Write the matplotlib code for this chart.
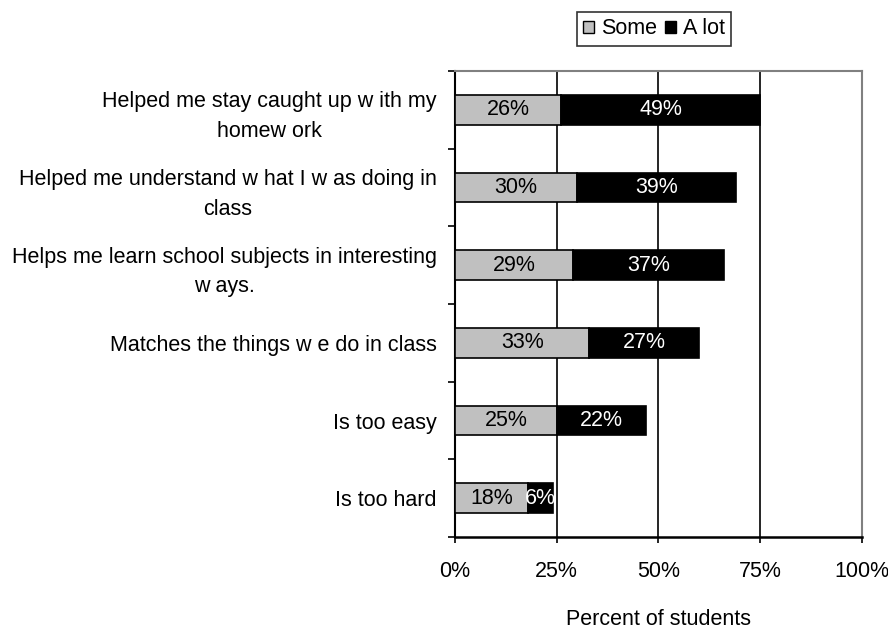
import numpy as np
import matplotlib
matplotlib.use("Agg")
import matplotlib.pyplot as plt
from matplotlib.patches import Patch

plt.rcParams['font.family'] = ['Liberation Sans', 'DejaVu Sans']

# data (top to bottom)
categories = ["Helped me stay caught up w ith my\nhomew ork",
              "Helped me understand w hat I w as doing in\nclass",
              "Helps me learn school subjects in interesting\nw ays.",
              "Matches the things w e do in class",
              "Is too easy",
              "Is too hard"]
some = [26, 30, 29, 33, 25, 18]
a_lot = [49, 39, 37, 27, 22, 6]
xticks = [0, 25, 50, 75, 100]

fs = 15.5

fig = plt.figure(figsize=(8.88, 6.3), dpi=100)
ax = fig.add_axes([0.5124, 0.1476, 0.4583, 0.7397])

n = len(categories)
y = np.arange(n)[::-1] + 0.5
h = 0.38

ax.barh(y, some, height=h, color='#c0c0c0', edgecolor='black', linewidth=1.2, zorder=3)
ax.barh(y, a_lot, left=some, height=h, color='black', edgecolor='black', linewidth=1.2, zorder=3)

for i in range(n):
    ax.text(some[i] / 2, y[i], "%d%%" % some[i], ha='center', va='center',
            fontsize=fs, color='black', zorder=4)
    ax.text(some[i] + a_lot[i] / 2, y[i], "%d%%" % a_lot[i], ha='center', va='center',
            fontsize=fs, color='white', zorder=4)

ax.set_xlim(0, 100)
ax.set_ylim(0, n)
ax.set_xticks(xticks)
ax.set_xticklabels(["%d%%" % t for t in xticks], fontsize=fs)
ax.tick_params(axis='x', direction='out', length=4, width=1.2, pad=13)

ax.set_yticks(np.arange(n + 1))
ax.set_yticklabels([])
ax.tick_params(axis='y', which='major', direction='out', length=5, width=1.2)
ax.set_yticks(y, minor=True)
ax.set_yticklabels(categories, minor=True, fontsize=fs, ha='right',
                   multialignment='center', linespacing=1.55)
ax.tick_params(axis='y', which='minor', length=0, pad=13)

for t in xticks[1:-1]:
    ax.axvline(t, color='black', linewidth=1.2, zorder=1)

ax.spines['left'].set_linewidth(1.5)
ax.spines['bottom'].set_linewidth(1.8)
ax.spines['top'].set_color('#808080')
ax.spines['right'].set_color('#808080')
ax.spines['top'].set_linewidth(1.5)
ax.spines['right'].set_linewidth(1.5)

ax.set_xlabel("Percent of students", fontsize=fs, labelpad=20)

handles = [Patch(facecolor='#c0c0c0', edgecolor='black', label='Some'),
           Patch(facecolor='black', edgecolor='black', label='A lot')]
leg = fig.legend(handles=handles, loc='center', bbox_to_anchor=(654 / 888, 1 - 29 / 630),
                 ncol=2, fontsize=fs, frameon=True, fancybox=False,
                 handlelength=0.5, handleheight=0.5, handletextpad=0.3, columnspacing=0.4,
                 borderpad=0.3, borderaxespad=0)
leg.get_frame().set_edgecolor('black')
leg.get_frame().set_linewidth(1.2)

fig.savefig("out.png", dpi=100)
